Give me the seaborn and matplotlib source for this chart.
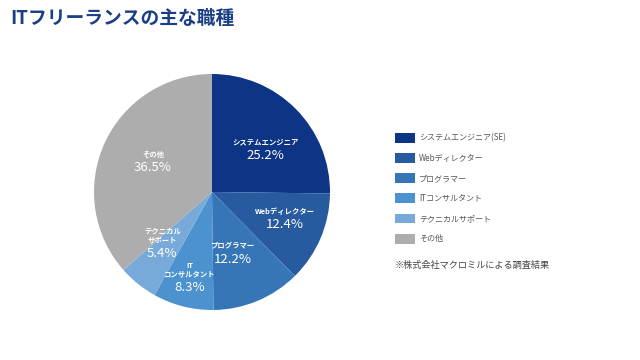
import numpy as np
import matplotlib
matplotlib.use('Agg')
import matplotlib.pyplot as plt
import matplotlib.patches as mpatches
import seaborn as sns

sns.set_theme(style='white')
plt.rcParams['font.family'] = ['Noto Sans CJK JP', 'DejaVu Sans']

# data
jobs = ['システムエンジニア(SE)', 'Webディレクター', 'プログラマー',
        'ITコンサルタント', 'テクニカルサポート', 'その他']
slice_names = ['システムエンジニア', 'Webディレクター', 'プログラマー',
               'IT\nコンサルタント', 'テクニカル\nサポート', 'その他']
shares = [25.2, 12.4, 12.2, 8.3, 5.4, 36.5]

colors = ['#0e3485', '#275a9f', '#3676b6', '#4b92cf', '#77aad8', '#adadad']
# label distance from center (fraction of radius) and angle tweak (deg)
label_r = [0.55, 0.68, 0.60, 0.83, 0.67, 0.54]
label_dang = [-10, -1, -6, 1, 0, 2]

fig = plt.figure(figsize=(6.4, 3.6), dpi=100)
ax = fig.add_axes([94 / 640, 50 / 360, 236 / 640, 236 / 360])

wedges, _ = ax.pie(shares, colors=colors, startangle=90, counterclock=False,
                   wedgeprops=dict(linewidth=0))
ax.set_xlim(-1, 1)
ax.set_ylim(-1, 1)
ax.set_aspect('equal')

for w, name, val, r, da in zip(wedges, slice_names, shares, label_r, label_dang):
    ang = np.deg2rad((w.theta1 + w.theta2) / 2 + da)
    x, y = r * np.cos(ang), r * np.sin(ang)
    ax.text(x, y, f'{val}%', ha='center', va='center', color='white',
            fontsize=9.5)
    ax.text(x, y + 0.085, name, ha='center', va='bottom', color='white',
            fontsize=5.3, fontweight='bold', linespacing=1.25)

fig.text(10 / 640, 1 - 18 / 360, 'ITフリーランスの主な職種', fontsize=13.5,
         fontweight='bold', color='#1b3f86', va='center', ha='left')

handles = [mpatches.Patch(facecolor=c, edgecolor='none') for c in colors]
leg = fig.legend(handles, jobs, loc='upper left',
                 bbox_to_anchor=(395 / 640, 1 - 133 / 360), frameon=False,
                 fontsize=5.8, handlelength=2.5, handleheight=1.5,
                 labelspacing=1.28, handletextpad=0.45, borderaxespad=0,
                 borderpad=0)
for t in leg.get_texts():
    t.set_color('#555555')

fig.text(395 / 640, 1 - 265 / 360, '※株式会社マクロミルによる調査結果',
         fontsize=6.6, color='#444444', va='center', ha='left')

fig.savefig('out.png', dpi=100)
